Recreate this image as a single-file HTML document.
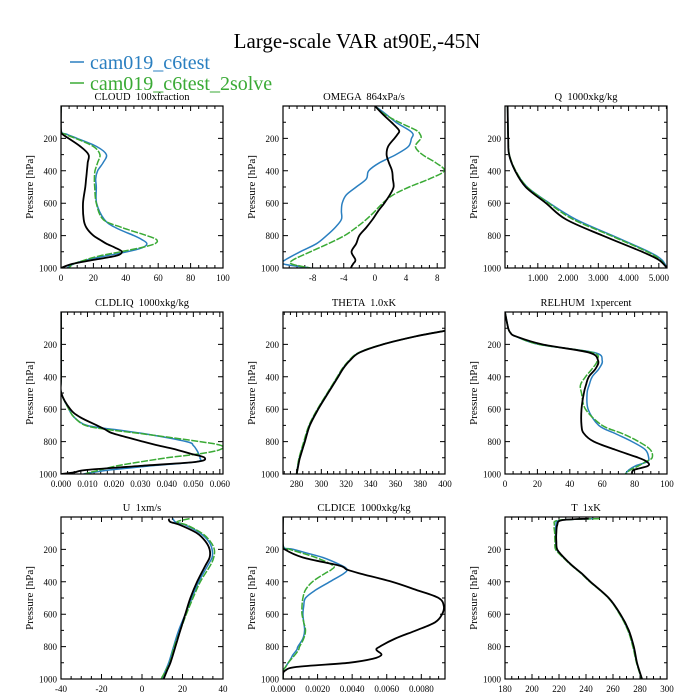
<!DOCTYPE html>
<html><head><meta charset="utf-8">
<style>
body{margin:0;background:#fff;}
svg{display:block;font-family:"Liberation Serif",serif;}
text{white-space:pre;}
</style></head>
<body>
<svg id="chart" width="700" height="700" xmlns="http://www.w3.org/2000/svg">
<rect width="700" height="700" fill="#fff"/>
<text x="357" y="48" font-size="21" text-anchor="middle">Large-scale VAR at90E,-45N</text>
<g>
<line x1="70" y1="62" x2="84" y2="62" stroke="#2a7fc0" stroke-width="1.5"/>
<text x="90" y="69" font-size="20" fill="#2a7fc0">cam019_c6test</text>
<line x1="70" y1="83" x2="84" y2="83" stroke="#3aaa35" stroke-width="1.5"/>
<text x="90" y="90" font-size="20" fill="#3aaa35">cam019_c6test_2solve</text>
</g>
</svg>
<script>
// ---- data ----
const cloudP=[0,150,175,200,250,300,350,400,450,500,600,700,750,800,825,850,875,900,925,950,975,1000];
const cloudBlack=[0,0,1,4.7,12,17,16.5,16,15.5,15,13.6,14,15.6,20,24,28,33.5,37.6,34,20,7,0];
const cloudBlue=[0,0,3.7,10,22,28,26,22.6,21.4,21.8,22,26.7,33.5,45,50,53,50,40.7,28,16,7.8,3.7];
const cloudGreen=[0,0,2.7,9,20,24,22.6,21,20.6,20.8,21.8,26,37.6,53,59,58,49,36.6,24,15,7.8,4.7];

const omegaP=[0,50,100,150,175,200,250,300,350,400,450,500,550,600,650,700,750,800,850,900,950,975,1000];
const omegaBlack=[0,1,2.1,3.1,2.9,2.5,1.7,1.5,1.8,2.2,2.3,2.4,1.9,1.2,0.4,-0.3,-1.1,-2,-2.4,-3,-2.5,-2.8,-3.1];
const omegaBlue=[0,1.4,2.7,4.4,4.9,4.7,4.3,2.7,0.6,-0.8,-1.1,-2.4,-3.7,-4.2,-4.3,-4.3,-5.1,-6.2,-7.5,-9.6,-11.5,-11.8,-8.3];
const omegaGreen=[0,1.2,3.1,5.3,5.8,5.9,5.2,6.1,7.8,8.9,7,4.4,2.3,1,0,-1.1,-2.4,-3.9,-6,-8.3,-10.5,-10.7,-8.3];

const qP=[0,200,300,400,500,600,700,800,900,950,1000];
const qBlack=[0,0.02,0.05,0.25,0.6,1.27,1.93,3.14,4.45,5.0,5.27];
const qBlue=[0,0.02,0.05,0.25,0.65,1.39,2.26,3.47,4.67,5.1,5.27];
const qGreen=[0,0.02,0.06,0.27,0.65,1.36,2.17,3.41,4.62,5.05,5.27];

const liqP=[0,400,500,600,650,700,725,750,800,825,850,875,900,925,950,975,990,1000];
const liqBlack=[0,0,0.0001,0.0035,0.0073,0.0136,0.0167,0.0198,0.031,0.037,0.0437,0.049,0.0543,0.051,0.030,0.0098,0.005,0];
const liqBlue=[0,0,0.0001,0.003,0.005,0.0098,0.0198,0.031,0.0474,0.05,0.0512,0.052,0.0525,0.051,0.0336,0.0186,0.012,0.0085];
const liqGreen=[0,0,0.0001,0.003,0.005,0.0092,0.0173,0.0299,0.0525,0.0606,0.06,0.0525,0.04,0.03,0.021,0.0148,0.011,0.0092];

const thetaP=[116,150,200,250,300,350,400,500,600,700,800,900,950,1000];
const thetaBlack=[400,376.6,349.8,331,323,317.6,313.6,305.5,297.5,290.7,286.7,282.7,281.3,280];
const thetaBlue=[400,376.6,349.6,330.6,322.6,317.2,313.2,305.1,297.1,290.3,286.3,282.3,281,280.2];
const thetaGreen=[400,376.4,349.4,330.3,322.3,316.9,312.9,304.8,296.8,290,285.8,282,280.9,280.4];

const rhP=[0,100,130,150,200,250,300,350,400,450,500,600,700,750,800,850,900,925,950,975,1000];
const rhBlack=[0,2,3.5,6.6,23,51.7,57.5,55.9,51.7,50,48.7,47.2,47.2,48.7,54.8,68,82.5,87.7,88.3,79.5,78.4];
const rhBlue=[0,2,3.5,6.6,21,55,60,58,53.8,52,50.7,51.3,57.9,68,78.4,86.6,88.7,87.7,80.5,76.4,74.3];
const rhGreen=[0,2,3.5,6.6,21,53.8,56.9,53.8,49.7,46.6,47.2,49.7,60,72.3,82.5,89.7,90.8,86.6,82.5,77.4,74.3];

const uP=[10,30,50,100,150,200,250,300,400,500,600,700,800,900,950,1000];
const uBlack=[13.2,14,18.9,27.2,31.3,33.4,33.4,31.3,27.2,23.9,21.4,18.9,16.5,14,12.3,10.7];
const uBlue=[15.3,16.5,21.4,28.8,32.9,34.6,34.6,32.4,28,24.7,21.4,18.1,15.6,13.2,11.5,9.9];
const uGreen=[23.5,17.3,22.2,29.6,33.7,35.7,35.4,33.7,28.8,25.2,21.9,18.9,15.9,13.7,11.6,9.5];

const iceP=[0,175,200,250,300,325,350,400,450,500,550,600,650,700,750,800,820,850,875,900,925,950,975,1000];
const iceBlack=[0,0,0.0001,0.00115,0.00326,0.0037,0.0045,0.0063,0.0077,0.009,0.0093,0.0092,0.0088,0.0077,0.0065,0.0056,0.0054,0.0057,0.0052,0.0038,0.0008,0.0001,0,0];
const iceBlue=[0,0,0.0006,0.0023,0.0034,0.0037,0.0035,0.0027,0.0019,0.0013,0.0012,0.00115,0.0012,0.00125,0.00115,0.00086,0.0008,0.00058,0.00045,0.0003,0.00015,0,0,0];
const iceGreen=[0,0,0.0004,0.0019,0.0029,0.0028,0.0024,0.0017,0.0013,0.00115,0.0011,0.0011,0.0012,0.0013,0.0012,0.00096,0.0009,0.0007,0.0005,0.0003,0.00015,0,0,0];

const tP=[10,20,50,100,150,200,250,300,350,400,500,600,700,800,900,1000];
const tBlack=[242,222,218.7,218,218,218.7,223.6,229.8,237,243.3,256.9,265.5,271.7,275.4,277.8,281.5];
const tBlue=[246,221,217.8,217.5,217.6,218.2,223.3,229.6,236.8,243.1,256.7,265.2,271.3,275,277.6,281.3];
const tGreen=[250,220,216.5,216.8,217,217.5,223,229.4,236.6,242.9,256.5,264.9,271,274.7,277.4,281.2];

const cloudTicks=[0,20,40,60,80,100];
const omegaTicks=[-8,-4,0,4,8];
const qTicks=[1,2,3,4,5];
const liqTicks=[0,0.01,0.02,0.03,0.04,0.05,0.06];
const thetaTicks=[280,300,320,340,360,380,400];
const rhTicks=[0,20,40,60,80,100];
const uTicks=[-40,-20,0,20,40];
const iceTicks=[0,0.002,0.004,0.006,0.008];
const tTicks=[180,200,220,240,260,280,300];
const pTicks=[200,400,600,800,1000];

const svg=document.getElementById('chart');
const NS='http://www.w3.org/2000/svg';
function mk(tag,attrs,parent){const e=document.createElementNS(NS,tag);for(const k in attrs)e.setAttribute(k,attrs[k]);(parent||svg).appendChild(e);return e;}
function smooth(pts){
  let d='M'+pts[0][0].toFixed(1)+','+pts[0][1].toFixed(1);
  for(let i=0;i<pts.length-1;i++){
    const p0=pts[Math.max(0,i-1)],p1=pts[i],p2=pts[i+1],p3=pts[Math.min(pts.length-1,i+2)];
    const c1x=p1[0]+(p2[0]-p0[0])/6,c1y=p1[1]+(p2[1]-p0[1])/6;
    const c2x=p2[0]-(p3[0]-p1[0])/6,c2y=p2[1]-(p3[1]-p1[1])/6;
    d+=`C${c1x.toFixed(1)},${c1y.toFixed(1)} ${c2x.toFixed(1)},${c2y.toFixed(1)} ${p2[0].toFixed(1)},${p2[1].toFixed(1)}`;
  }
  return d;
}

const BLUE='#2a7fc0',GREEN='#3aaa35';
function panel(name,title,L,T,W,H,xmin,xmax,ticks,fmt,P,blk,blu,grn){
  const g=mk('g',{});
  
  
  const xs=v=>L+(v-xmin)/(xmax-xmin)*W;
  const ys=p=>T+p/1000*H;
  const t=mk('text',{x:L+W/2,y:T-6,'font-size':'10.5','text-anchor':'middle'},g);
  t.textContent=title;
  
  
  const yl=mk('text',{x:0,y:0,'font-size':'11','text-anchor':'middle',transform:'translate('+(L-28)+','+(T+H/2)+') rotate(-90)'},g);
  yl.textContent='Pressure [hPa]';
  
  
  let d='';
  for(let p=100;p<=1000;p+=100){
    const y=ys(p);const major=pTicks.includes(p);const len=major?5:3;
    d+=`M${L},${y}h${len}M${L+W},${y}h${-len}`;
  }
  for(const p of pTicks){
    const tt=mk('text',{x:L-4,y:ys(p)+3.5,'font-size':'9','text-anchor':'end'},g);
    tt.textContent=p;
    
    
  }
  const step=ticks[1]-ticks[0];
  const minor=step/4;
  let start=ticks[0];while(start-minor>=xmin-1e-9)start-=minor;
  for(let v=start;v<=xmax+1e-9;v+=minor){
    const x=xs(v);
    const isMaj=ticks.some(tk=>Math.abs(tk-v)<minor*0.1);
    const len=isMaj?5:3;
    d+=`M${x},${T+H}v${-len}M${x},${T}v${len}`;
  }
  mk('path',{d:d,stroke:'#000','stroke-width':'1',fill:'none'},g);
  for(const v of ticks){
    const tt=mk('text',{x:xs(v),y:T+H+13,'font-size':'9','text-anchor':'middle'},g);
    tt.textContent=fmt(v);
    
    
  }
  const clip='clip-'+name;
  const cp=mk('clipPath',{id:clip},g);
  mk('rect',{x:L,y:T,width:W,height:H},cp);
  const series=[[blu,BLUE,'1.5','none','c6test'],[grn,GREEN,'1.5','7,1.5','2solve'],[blk,'#000','1.8','none','obs']];
  for(const [vals,col,sw,da,nm] of series){
    const pts=vals.map((v,i)=>[xs(v),ys(P[i])]);
    const pl=mk('path',{d:smooth(pts),fill:'none',stroke:col,'stroke-width':sw,'stroke-dasharray':da,'stroke-linejoin':'round','clip-path':'url(#'+clip+')'},g);
    
    
  }
  const fr=mk('rect',{x:L,y:T,width:W,height:H,fill:'none',stroke:'#000','stroke-width':'1.2'},g);
  
  
}
const cols=[61,283,505],rows=[106,312,517],W=162,H=162;
const fi=v=>String(v), f3=v=>v.toFixed(3), f4=v=>v.toFixed(4);
panel('cloud','CLOUD  100xfraction',cols[0],rows[0],W,H,0,100,cloudTicks,fi,cloudP,cloudBlack,cloudBlue,cloudGreen);
panel('omega','OMEGA  864xPa/s',cols[1],rows[0],W,H,-11.8,9,omegaTicks,fi,omegaP,omegaBlack,omegaBlue,omegaGreen);
panel('q','Q  1000xkg/kg',cols[2],rows[0],W,H,-0.085,5.27,qTicks,f3,qP,qBlack,qBlue,qGreen);
panel('cldliq','CLDLIQ  1000xkg/kg',cols[0],rows[1],W,H,0,0.0612,liqTicks,f3,liqP,liqBlack,liqBlue,liqGreen);
panel('theta','THETA  1.0xK',cols[1],rows[1],W,H,269,400,thetaTicks,fi,thetaP,thetaBlack,thetaBlue,thetaGreen);
panel('relhum','RELHUM  1xpercent',cols[2],rows[1],W,H,0,100,rhTicks,fi,rhP,rhBlack,rhBlue,rhGreen);
panel('u','U  1xm/s',cols[0],rows[2],W,H,-40,40,uTicks,fi,uP,uBlack,uBlue,uGreen);
panel('cldice','CLDICE  1000xkg/kg',cols[1],rows[2],W,H,0,0.00937,iceTicks,f4,iceP,iceBlack,iceBlue,iceGreen);
panel('t','T  1xK',cols[2],rows[2],W,H,180,300,tTicks,fi,tP,tBlack,tBlue,tGreen);
</script>
</body></html>
